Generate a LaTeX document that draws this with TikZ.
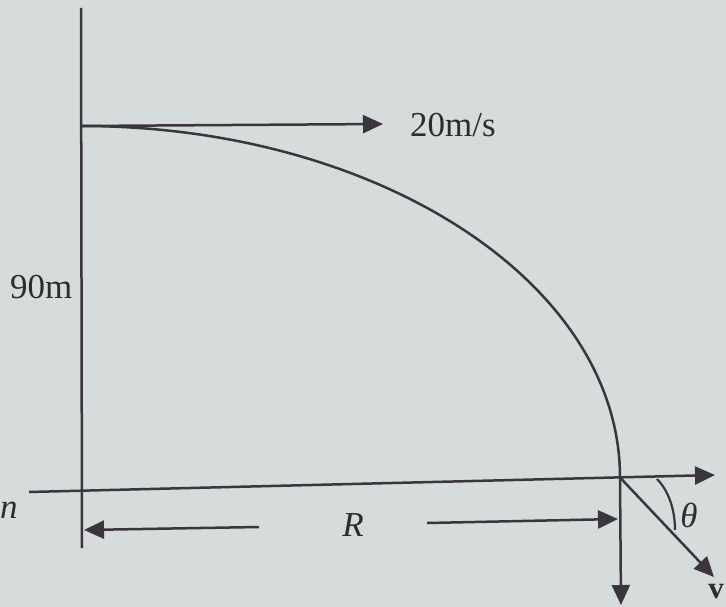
\documentclass[tikz,border=0pt]{standalone}
\usepackage{fontspec}
\setmainfont{Liberation Serif}
\usetikzlibrary{arrows.meta}
\definecolor{bgc}{RGB}{214,219,219}
\definecolor{ink}{RGB}{58,54,60}
\definecolor{txt}{RGB}{45,45,48}
\begin{document}
\begin{tikzpicture}[x=1pt,y=-1pt,
  ln/.style={draw=ink,line width=2.5pt},
  arr/.style={ln,-{Triangle[length=20pt,width=18pt]}},
  lbl/.style={text=txt,inner sep=0pt,font=\fontsize{35}{40}\selectfont}]
\useasboundingbox (0,0) rectangle (726,607);
\fill[bgc] (0,0) rectangle (726,607);
% coordinates
\coordinate (vtop) at (81,8);
\coordinate (vbot) at (82,548);
\coordinate (launch) at (81,126);
\coordinate (vtip) at (383,124);
\coordinate (gl) at (29,492);
\coordinate (gr) at (715,475);
\coordinate (land) at (620,477.5);
\coordinate (down) at (621,605);
\coordinate (vel) at (714,577);
\coordinate (rlt) at (259,527);
\coordinate (rlh) at (84,530);
\coordinate (rrt) at (427,523);
\coordinate (rrh) at (618,519);
% axes and lines
\draw[ln] (vtop) -- (vbot);
\draw[arr] (launch) -- (vtip);
\draw[arr] (gl) -- (gr);
\draw[ln] (launch) .. controls (378.7,126) and (620,283.1) .. (land);
\draw[arr] (land) -- (down);
\draw[arr] (land) -- (vel);
\draw[arr] (rlt) -- (rlh);
\draw[arr] (rrt) -- (rrh);
% angle arc
\coordinate (th1) at (657,479);
\coordinate (th2) at (675,530);
\draw[ln,line width=2.2pt] (th1) .. controls (667,489) and (675,507) .. (th2);
% labels
\node[lbl,anchor=base west] (speed) at (410,137) {20m/s};
\node[lbl,anchor=base west] (height) at (10,298) {90m};
\node[lbl] (range) at (353,525) {\itshape R};
\node[lbl] (theta) at (689,515) {\itshape θ};
\node[lbl,anchor=base east,font=\fontsize{31}{36}\selectfont] (vlab) at (724,598) {\textbf{v}};
\node[lbl,anchor=base west] (cut) at (0,518) {\itshape n};
\end{tikzpicture}
\end{document}
